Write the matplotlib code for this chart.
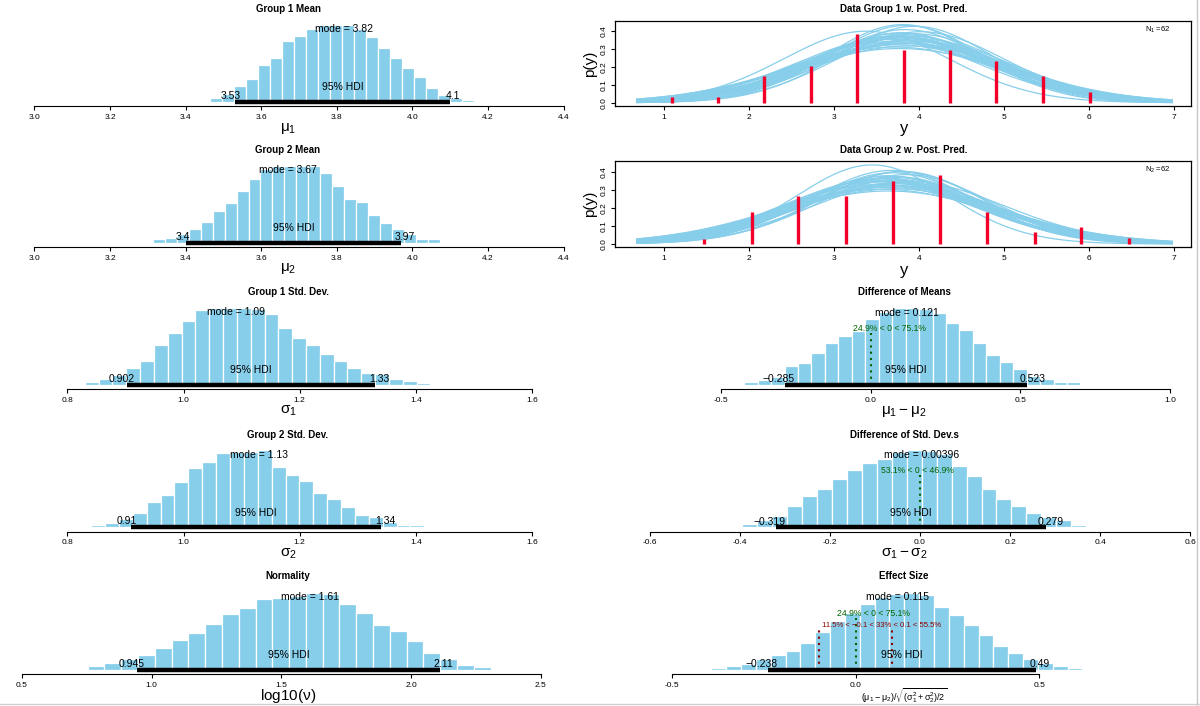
import math
import numpy as np
import matplotlib
matplotlib.use("Agg")
import matplotlib.pyplot as plt
from matplotlib.transforms import ScaledTranslation
from matplotlib.lines import Line2D

plt.rcParams['font.family'] = ['Liberation Sans', 'DejaVu Sans']
plt.rcParams['mathtext.fontset'] = 'custom'
plt.rcParams['mathtext.rm'] = 'Liberation Sans'
plt.rcParams['mathtext.it'] = 'Liberation Sans:italic'
plt.rcParams['mathtext.bf'] = 'Liberation Sans:bold'
plt.rcParams['axes.unicode_minus'] = False

# ---- posterior histograms (relative density, tallest bar = 1) ----
mu1_start, mu1_width = 3.434, 0.0317
mu1_heights = [0.01, 0.05, 0.10, 0.20, 0.29, 0.48, 0.57, 0.78, 0.85, 0.94, 0.99, 1.0, 1.0,
               0.94, 0.84, 0.69, 0.56, 0.44, 0.32, 0.17, 0.08, 0.05, 0.02, 0.01, 0.01]
mu1_mode, mu1_hdi, mu1_hdi_txt = 3.82, (3.53, 4.10), ("3.53", "4.1")

mu2_start, mu2_width = 3.281, 0.0317
mu2_heights = [0.01, 0.04, 0.06, 0.11, 0.18, 0.27, 0.41, 0.51, 0.67, 0.82, 0.96, 0.99, 1.0,
               0.99, 0.99, 0.90, 0.74, 0.57, 0.52, 0.36, 0.25, 0.17, 0.11, 0.05, 0.04, 0.01]
mu2_mode, mu2_hdi, mu2_hdi_txt = 3.67, (3.40, 3.97), ("3.4", "3.97")

sd1_start, sd1_width = 0.830, 0.0238
sd1_heights = [0.03, 0.07, 0.12, 0.21, 0.31, 0.51, 0.67, 0.82, 0.97, 1.0, 1.0, 1.0, 0.98,
               0.91, 0.74, 0.61, 0.51, 0.40, 0.31, 0.21, 0.15, 0.13, 0.07, 0.04, 0.02, 0.01]
sd1_mode, sd1_hdi, sd1_hdi_txt = 1.09, (0.902, 1.33), ("0.902", "1.33")

sd2_start, sd2_width = 0.841, 0.0239
sd2_heights = [0.02, 0.05, 0.10, 0.18, 0.32, 0.42, 0.58, 0.77, 0.84, 0.96, 0.97, 0.97, 1.0,
               0.78, 0.68, 0.60, 0.44, 0.36, 0.26, 0.15, 0.13, 0.06, 0.03, 0.03, 0.01]
sd2_mode, sd2_hdi, sd2_hdi_txt = 1.13, (0.91, 1.34), ("0.91", "1.34")

nu_start, nu_width = 0.689, 0.0647
nu_heights = [0.01, 0.04, 0.08, 0.13, 0.19, 0.28, 0.38, 0.48, 0.59, 0.72, 0.80, 0.91, 0.93,
              0.96, 1.0, 0.98, 0.85, 0.73, 0.58, 0.50, 0.37, 0.22, 0.13, 0.06, 0.03, 0.01]
nu_mode, nu_hdi, nu_hdi_txt = 1.61, (0.945, 2.11), ("0.945", "2.11")

dmu_start, dmu_width = -0.467, 0.0449
dmu_heights = [0.01, 0.03, 0.06, 0.10, 0.24, 0.28, 0.41, 0.54, 0.63, 0.70, 0.85, 0.94, 1.0,
               1.0, 0.98, 0.93, 0.80, 0.71, 0.54, 0.39, 0.30, 0.20, 0.12, 0.08, 0.04, 0.03]
dmu_mode, dmu_hdi, dmu_hdi_txt = 0.121, (-0.285, 0.523), ("\u22120.285", "0.523")
dmu_comp_txt, dmu_comp_lt = "24.9% < 0 < 75.1%", 24.9

dsd_start, dsd_width = -0.461, 0.0332
dsd_heights = [0.01, 0.02, 0.04, 0.10, 0.14, 0.27, 0.40, 0.50, 0.62, 0.74, 0.83, 0.88, 0.98,
               1.0, 0.99, 0.95, 0.79, 0.66, 0.50, 0.37, 0.27, 0.18, 0.13, 0.09, 0.03, 0.01, 0.01]
dsd_mode, dsd_hdi, dsd_hdi_txt = 0.00396, (-0.319, 0.279), ("\u22120.319", "0.279")
dsd_comp_txt, dsd_comp_lt = "53.1% < 0 < 46.9%", 53.1

eff_start, eff_width = -0.433, 0.0404
eff_heights = [0.005, 0.02, 0.04, 0.07, 0.13, 0.19, 0.24, 0.35, 0.49, 0.63, 0.74, 0.85, 0.94,
               0.98, 1.0, 0.97, 0.81, 0.71, 0.58, 0.45, 0.31, 0.21, 0.14, 0.08, 0.04, 0.025, 0.01]
eff_mode, eff_hdi, eff_hdi_txt = 0.115, (-0.238, 0.49), ("\u22120.238", "0.49")
eff_comp_txt, eff_comp_lt = "24.9% < 0 < 75.1%", 24.9
eff_rope = (-0.1, 0.1)
eff_rope_txt = "11.5% < \u22120.1 < 33% < 0.1 < 55.5%"
eff_rope_lt, eff_rope_in = 11.5, 33.0

# ---- data with posterior predictive curves ----
g1_x = [1.09, 1.64, 2.18, 2.73, 3.27, 3.82, 4.37, 4.91, 5.46, 6.01]
g1_p = [0.032, 0.032, 0.149, 0.208, 0.385, 0.294, 0.294, 0.236, 0.149, 0.061]
g2_x = [1.47, 2.03, 2.58, 3.14, 3.69, 4.25, 4.80, 5.36, 5.91, 6.47]
g2_p = [0.030, 0.180, 0.265, 0.265, 0.352, 0.385, 0.180, 0.065, 0.093, 0.033]

pp_mu1 = [3.82, 3.75, 3.90, 3.68, 3.95, 3.85, 3.78, 3.62, 3.88, 4.02, 3.72, 3.80, 3.84, 3.93, 3.70,
          3.77, 3.86, 3.98, 3.66, 3.81, 3.74, 3.91, 3.83, 3.79, 3.38, 3.87, 3.76, 3.85, 3.71, 3.96]
pp_sd1 = [1.09, 1.05, 1.15, 1.12, 0.93, 1.20, 1.02, 1.10, 1.25, 1.00, 1.08, 1.18, 0.97, 1.13, 1.06,
          1.31, 1.04, 1.11, 1.16, 0.91, 1.22, 1.07, 1.14, 1.01, 0.99, 1.19, 1.09, 0.92, 1.27, 1.03]
pp_nu1 = [40, 25, 60, 35, 80, 30, 45, 20, 55, 70, 38, 28, 50, 42, 33,
          65, 22, 48, 36, 90, 27, 44, 52, 31, 40, 58, 24, 75, 34, 46]
pp_mu2 = [3.67, 3.60, 3.75, 3.55, 3.80, 3.70, 3.62, 3.50, 3.72, 3.85, 3.58, 3.66, 3.69, 3.78, 3.54,
          3.64, 3.73, 3.88, 3.52, 3.68, 3.61, 3.76, 3.70, 3.63, 3.45, 3.74, 3.59, 3.79, 3.57, 3.71]
pp_sd2 = [1.13, 1.08, 1.18, 1.15, 0.98, 1.24, 1.05, 1.12, 1.29, 1.02, 1.10, 1.21, 1.00, 1.16, 1.09,
          1.34, 1.06, 1.14, 1.19, 0.97, 1.26, 1.11, 1.17, 1.04, 0.90, 1.22, 1.13, 0.99, 1.30, 1.07]
pp_nu2 = [33, 52, 24, 70, 41, 29, 60, 38, 45, 22, 85, 36, 48, 27, 66,
          31, 55, 40, 20, 75, 44, 34, 58, 26, 40, 50, 30, 64, 37, 47]

mean_ticks = [3.0, 3.2, 3.4, 3.6, 3.8, 4.0, 4.2, 4.4]
sd_ticks = [0.8, 1.0, 1.2, 1.4, 1.6]
nu_ticks = [0.5, 1.0, 1.5, 2.0, 2.5]
dmu_ticks = [-0.5, 0.0, 0.5, 1.0]
dsd_ticks = [-0.6, -0.4, -0.2, 0.0, 0.2, 0.4, 0.6]
eff_ticks = [-0.5, 0.0, 0.5]
y_ticks = [1, 2, 3, 4, 5, 6, 7]
p_ticks = [0.0, 0.1, 0.2, 0.3, 0.4]

W, H = 1200, 706
fig = plt.figure(figsize=(12, 7.06), dpi=100)
fig.patch.set_facecolor('white')
renderer = fig.canvas.get_renderer()

BAR_PX = 77.0   # pixel height of tallest bar
GAP_PX = 4.5    # axis line below zero


def px_axes(x0, x1, ytop, ybot):
    return fig.add_axes([x0 / W, 1 - ybot / H, (x1 - x0) / W, (ybot - ytop) / H])


def fit_xlim(ax, x0, x1, va, pa, vb, pb):
    s = (pb - pa) / (vb - va)
    ax.set_xlim(va + (x0 - pa) / s, va + (x1 - pa) / s)


def adj_text(ax, x, y, s, frac, dy, **kw):
    t = ax.text(x, y, s, ha='left', va='baseline', **kw)
    w = t.get_window_extent(renderer).width
    t.set_transform(ax.transData + ScaledTranslation(-frac * w / fig.dpi, dy / fig.dpi,
                                                    fig.dpi_scale_trans))
    return t


def fmt(v):
    return "%.1f" % v


def post_panel(col, A, calib, title, ty, start, width, heights, mode, hdi, hdi_txt,
               ticks, xlabel, xl_size=11, comp=None, rope=None):
    x0, x1, cx = (0, 576, 288) if col == 0 else (615, 1191, 904)
    B = A - GAP_PX
    T = B - BAR_PX
    ax = px_axes(x0, x1, T - 0.04 * BAR_PX, A)
    fit_xlim(ax, x0, x1, *calib)
    ax.set_ylim(-GAP_PX / BAR_PX, 1.04)
    edges = start + width * np.arange(len(heights))
    ax.bar(edges, heights, width=width, align='edge', color='skyblue',
           edgecolor='white', linewidth=0.9, zorder=1)
    ax.plot(hdi, [0, 0], color='black', lw=3.2, solid_capstyle='butt', zorder=3)
    top = max(heights)
    adj_text(ax, mode, 0.9 * top, "mode = %s" % ("%g" % mode), 0.5, 0, fontsize=7.5)
    adj_text(ax, np.mean(hdi), 0, "95% HDI", 0.5, 11.5, fontsize=7.5)
    adj_text(ax, hdi[0], 0, hdi_txt[0], 0.7, 2.5, fontsize=7.5)
    adj_text(ax, hdi[1], 0, hdi_txt[1], 0.3, 2.5, fontsize=7.5)
    if comp is not None:
        txt, lt = comp
        ax.plot([0, 0], [0, 0.96 * 0.7 * top], color='darkgreen', ls=(0, (1, 2)), lw=1.5, zorder=2)
        adj_text(ax, 0, 0.7 * top, txt, lt / 100, 0, fontsize=6.2, color='darkgreen')
    if rope is not None:
        lims, txt, frac = rope
        for r in lims:
            ax.plot([r, r], [0, 0.96 * 0.55 * top], color='darkred', ls=(0, (1, 2)), lw=1.5, zorder=2)
        adj_text(ax, np.mean(lims), 0.55 * top, txt, frac, 0, fontsize=5.6, color='darkred')
    for s in ['left', 'top', 'right']:
        ax.spines[s].set_visible(False)
    ax.spines['bottom'].set_bounds(ticks[0], ticks[-1])
    ax.spines['bottom'].set_linewidth(0.8)
    ax.set_yticks([])
    ax.set_xticks(ticks, [fmt(t) for t in ticks])
    ax.tick_params(axis='x', length=3, width=0.8, labelsize=6, pad=2.5)
    ax.patch.set_visible(False)
    fig.text(cx / W, 1 - ty / H, title, ha='center', va='center', fontsize=7, fontweight='bold')
    fig.text(cx / W, 1 - (A + 22) / H, xlabel, ha='center', va='center', fontsize=xl_size)
    return ax


def t_pdf(x, mu, sd, nu):
    c = math.exp(math.lgamma((nu + 1) / 2) - math.lgamma(nu / 2)) / (math.sqrt(nu * math.pi) * sd)
    return c * (1 + ((x - mu) / sd) ** 2 / nu) ** (-(nu + 1) / 2)


def ppc_panel(ytop, ybot, ylim, title, ty, mus, sds, nus, bx, bp, nlabel):
    ax = px_axes(615, 1191, ytop, ybot)
    fit_xlim(ax, 615, 1191, 1, 664, 7, 1174)
    ax.set_ylim(*ylim)
    xs = np.linspace(0.68, 6.98, 300)
    for m, s, n in zip(mus, sds, nus):
        ax.plot(xs, t_pdf(xs, m, s, n), color='skyblue', lw=0.9)
    ax.vlines(bx, 0, bp, color='#f2002a', lw=2.4)
    ax.set_xticks(y_ticks, [str(t) for t in y_ticks])
    ax.set_yticks(p_ticks, [fmt(t) for t in p_ticks])
    ax.tick_params(axis='both', length=3, width=0.8, labelsize=6, pad=2.5)
    ax.tick_params(axis='y', labelrotation=90)
    for lab in ax.get_yticklabels():
        lab.set_va('center')
    for s in ax.spines.values():
        s.set_linewidth(0.9)
    ax.text(0.965, 0.955, nlabel, transform=ax.transAxes, ha='right', va='top', fontsize=5.5)
    fig.text(904 / W, 1 - ty / H, title, ha='center', va='center', fontsize=7, fontweight='bold')
    fig.text(904 / W, 1 - (ybot + 23) / H, "y", ha='center', va='center', fontsize=12)
    fig.text(590 / W, 1 - (ytop + ybot) / 2 / H, "p(y)", ha='center', va='center',
             fontsize=11, rotation=90)
    return ax


# left column
post_panel(0, 106, (3.0, 34.4, 4.4, 563.7), "Group 1 Mean", 9.5, mu1_start, mu1_width,
           mu1_heights, mu1_mode, mu1_hdi, mu1_hdi_txt, mean_ticks, r'$\mathregular{\mu_1}$')
post_panel(0, 247, (3.0, 34.4, 4.4, 563.7), "Group 2 Mean", 150, mu2_start, mu2_width,
           mu2_heights, mu2_mode, mu2_hdi, mu2_hdi_txt, mean_ticks, r'$\mathregular{\mu_2}$')
post_panel(0, 389, (0.8, 67.4, 1.6, 532.0), "Group 1 Std. Dev.", 292, sd1_start, sd1_width,
           sd1_heights, sd1_mode, sd1_hdi, sd1_hdi_txt, sd_ticks, r'$\mathregular{\sigma_1}$')
post_panel(0, 531.5, (0.8, 67.4, 1.6, 532.0), "Group 2 Std. Dev.", 434.5, sd2_start, sd2_width,
           sd2_heights, sd2_mode, sd2_hdi, sd2_hdi_txt, sd_ticks, r'$\mathregular{\sigma_2}$')
post_panel(0, 674, (0.5, 21.8, 2.5, 540.8), "Normality", 576, nu_start, nu_width,
           nu_heights, nu_mode, nu_hdi, nu_hdi_txt, nu_ticks, r'log10($\mathregular{\nu}$)')

# right column
ppc_panel(20.7, 106, (-0.018, 0.459), "Data Group 1 w. Post. Pred.", 8.5,
          pp_mu1, pp_sd1, pp_nu1, g1_x, g1_p, r'$\mathregular{N_1 = 62}$')
ppc_panel(160.7, 247.3, (-0.018, 0.464), "Data Group 2 w. Post. Pred.", 150,
          pp_mu2, pp_sd2, pp_nu2, g2_x, g2_p, r'$\mathregular{N_2 = 62}$')
post_panel(1, 389.3, (-0.5, 720.9, 1.0, 1170.2), "Difference of Means", 292, dmu_start, dmu_width,
           dmu_heights, dmu_mode, dmu_hdi, dmu_hdi_txt, dmu_ticks,
           r'$\mathregular{\mu_1 - \mu_2}$', comp=(dmu_comp_txt, dmu_comp_lt))
post_panel(1, 531.7, (-0.6, 649.7, 0.6, 1190.3), "Difference of Std. Dev.s", 434.5, dsd_start,
           dsd_width, dsd_heights, dsd_mode, dsd_hdi, dsd_hdi_txt, dsd_ticks,
           r'$\mathregular{\sigma_1 - \sigma_2}$', comp=(dsd_comp_txt, dsd_comp_lt))
post_panel(1, 674, (-0.5, 671.9, 0.5, 1039.3), "Effect Size", 576, eff_start, eff_width,
           eff_heights, eff_mode, eff_hdi, eff_hdi_txt, eff_ticks,
           r'$\mathregular{(\mu_1 - \mu_2)/}\sqrt{\mathregular{(\sigma_1^2 + \sigma_2^2)/2}}$',
           xl_size=6.5, comp=(eff_comp_txt, eff_comp_lt),
           rope=(eff_rope, eff_rope_txt, (eff_rope_lt + eff_rope_in / 2) / 100))

# window frame edges
fig.add_artist(Line2D([1197 / W, 1197 / W], [0, 1], color='#c8c8c8', lw=1))
fig.add_artist(Line2D([0, 1], [2 / H, 2 / H], color='#d0d0d0', lw=1))

fig.savefig("out.png", dpi=100)
